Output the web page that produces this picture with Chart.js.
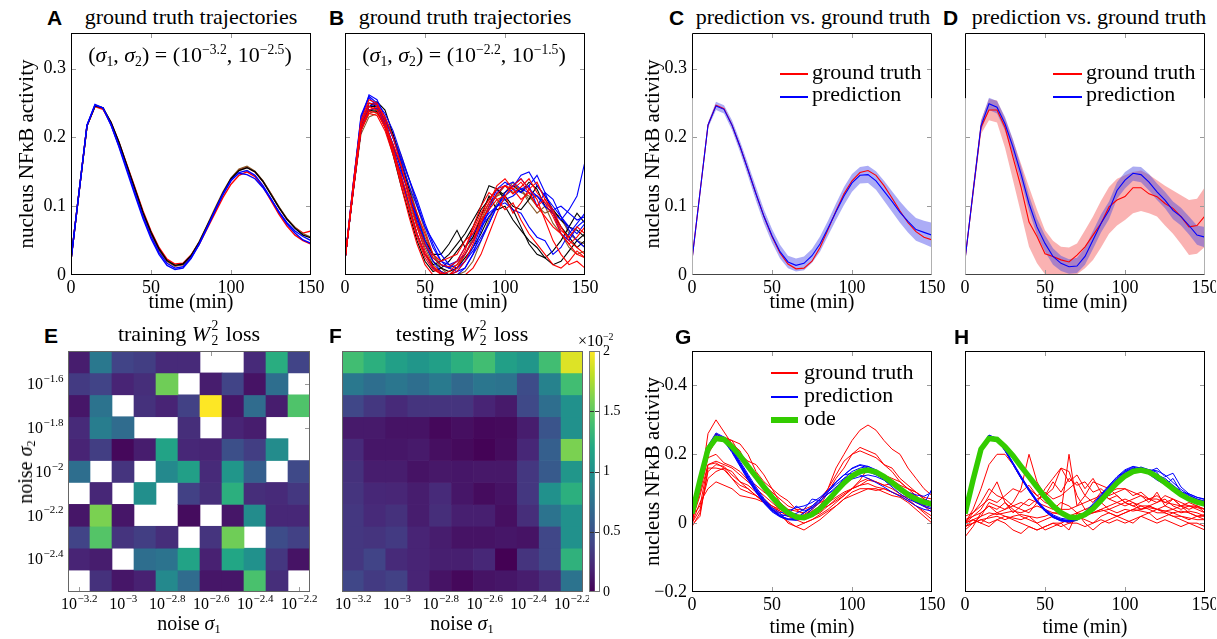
<!DOCTYPE html>
<html><head><meta charset="utf-8">
<script src="https://cdn.jsdelivr.net/npm/chart.js@4/dist/chart.umd.min.js"></script>
<style>
body{margin:0;background:#fff;width:1217px;height:639px;position:relative;overflow:hidden;font-family:'Liberation Serif',serif;}
canvas{position:absolute;}
.s{position:absolute;white-space:nowrap;font-family:'Liberation Serif',serif;font-size:22px;line-height:1;color:#000;}
.c{transform:translateX(-50%);}
.L{position:absolute;font-family:'Liberation Sans',Arial,sans-serif;font-weight:bold;font-size:21px;line-height:1;}
sup,sub{font-size:0.62em;line-height:0;position:relative;vertical-align:baseline;}
sup{top:-0.6em;} sub{top:0.28em;}
.sb{position:relative;display:inline-block;font-size:0.62em;width:0.75em;height:1.3em;}
.sb span{position:absolute;left:0.1em;line-height:1;}
.sb .u{top:-0.31em;} .sb .d{top:0.78em;}
.ln{position:absolute;}
</style></head><body>
<script>
// ---------------- DATA ----------------
const T = [0,5,10,15,20,25,30,35,40,45,50,55,60,65,70,75,80,85,90,95,100,105,110,115,120,125,130,135,140,145,150];

// Panel A: ground truth trajectories, low noise
const A_red = [
 [0.022,0.12,0.217,0.245,0.241,0.222,0.193,0.160,0.127,0.093,0.064,0.040,0.023,0.016,0.017,0.029,0.047,0.071,0.095,0.119,0.140,0.153,0.157,0.150,0.136,0.118,0.098,0.081,0.069,0.061,0.064],
 [0.022,0.12,0.217,0.246,0.242,0.219,0.188,0.155,0.121,0.088,0.059,0.036,0.020,0.013,0.015,0.026,0.044,0.067,0.090,0.113,0.132,0.145,0.150,0.143,0.128,0.108,0.088,0.071,0.058,0.050,0.045]];
const A_blue = [
 [0.022,0.12,0.218,0.248,0.243,0.218,0.186,0.151,0.116,0.082,0.053,0.030,0.014,0.008,0.010,0.024,0.044,0.068,0.093,0.117,0.137,0.149,0.152,0.145,0.130,0.111,0.091,0.074,0.061,0.051,0.046],
 [0.022,0.12,0.218,0.247,0.243,0.219,0.188,0.154,0.119,0.085,0.056,0.033,0.017,0.010,0.012,0.025,0.045,0.069,0.094,0.118,0.138,0.148,0.146,0.140,0.127,0.110,0.092,0.076,0.064,0.056,0.050]];
const A_black = [
 [0.022,0.12,0.217,0.246,0.243,0.222,0.193,0.159,0.125,0.091,0.062,0.038,0.021,0.014,0.016,0.028,0.047,0.071,0.095,0.119,0.140,0.152,0.156,0.150,0.136,0.117,0.098,0.081,0.068,0.058,0.054]];
const A_brown = [
 [0.022,0.12,0.217,0.246,0.243,0.221,0.192,0.158,0.124,0.090,0.061,0.037,0.020,0.013,0.015,0.028,0.048,0.072,0.097,0.121,0.141,0.154,0.158,0.151,0.137,0.118,0.099,0.082,0.069,0.060,0.055]];

// Panel B: ground truth trajectories, high noise
const B_red = [
 [0.022,0.13,0.225,0.255,0.25,0.225,0.185,0.14,0.095,0.055,0.025,0.008,0.002,0.0,0.005,0.02,0.045,0.075,0.1,0.118,0.13,0.125,0.135,0.12,0.1,0.085,0.07,0.06,0.045,0.03,0.025],
 [0.022,0.12,0.21,0.235,0.232,0.21,0.175,0.135,0.1,0.06,0.03,0.012,0.004,0.0,0.01,0.03,0.05,0.08,0.095,0.11,0.115,0.09,0.105,0.125,0.11,0.08,0.05,0.03,0.015,0.02,0.01],
 [0.022,0.125,0.22,0.245,0.24,0.215,0.19,0.16,0.12,0.09,0.06,0.03,0.02,0.025,0.03,0.05,0.06,0.085,0.105,0.13,0.14,0.125,0.11,0.12,0.1,0.11,0.09,0.065,0.055,0.07,0.06],
 [0.022,0.12,0.215,0.24,0.245,0.22,0.18,0.13,0.085,0.045,0.015,0.0,0.0,0.005,0.015,0.035,0.07,0.1,0.12,0.11,0.095,0.105,0.08,0.06,0.045,0.03,0.015,0.01,0.02,0.035,0.025],
 [0.022,0.125,0.22,0.25,0.248,0.23,0.2,0.16,0.115,0.07,0.035,0.012,0.0,0.0,0.0,0.0,0.01,0.03,0.06,0.09,0.115,0.13,0.14,0.125,0.135,0.11,0.095,0.07,0.05,0.04,0.03],
 [0.022,0.12,0.21,0.238,0.236,0.215,0.18,0.145,0.11,0.075,0.045,0.025,0.015,0.012,0.02,0.04,0.065,0.09,0.11,0.125,0.13,0.118,0.128,0.14,0.12,0.105,0.085,0.06,0.045,0.055,0.07]];
const B_blue = [
 [0.022,0.13,0.225,0.262,0.255,0.23,0.2,0.165,0.13,0.1,0.07,0.05,0.03,0.015,0.01,0.02,0.035,0.055,0.075,0.1,0.12,0.13,0.14,0.125,0.115,0.1,0.09,0.08,0.095,0.115,0.165],
 [0.022,0.125,0.22,0.25,0.248,0.22,0.185,0.145,0.1,0.06,0.03,0.01,0.002,0.0,0.0,0.01,0.03,0.065,0.095,0.12,0.13,0.135,0.125,0.13,0.145,0.12,0.09,0.06,0.05,0.07,0.08],
 [0.022,0.128,0.23,0.258,0.245,0.215,0.18,0.15,0.12,0.085,0.05,0.025,0.015,0.01,0.02,0.04,0.06,0.075,0.09,0.1,0.105,0.095,0.09,0.07,0.055,0.05,0.03,0.04,0.06,0.075,0.09],
 [0.022,0.12,0.215,0.245,0.25,0.235,0.21,0.175,0.14,0.11,0.075,0.045,0.02,0.01,0.005,0.01,0.03,0.05,0.075,0.1,0.115,0.125,0.12,0.13,0.1,0.12,0.11,0.085,0.065,0.05,0.04],
 [0.022,0.13,0.232,0.26,0.25,0.222,0.19,0.155,0.118,0.08,0.045,0.02,0.005,0.0,0.005,0.02,0.04,0.07,0.1,0.125,0.135,0.128,0.145,0.15,0.13,0.115,0.1,0.085,0.07,0.06,0.075],
 [0.022,0.12,0.21,0.24,0.243,0.225,0.2,0.17,0.14,0.105,0.07,0.04,0.02,0.015,0.02,0.03,0.05,0.07,0.085,0.1,0.11,0.115,0.125,0.12,0.115,0.105,0.095,0.1,0.09,0.08,0.085]];
const B_black = [
 [0.022,0.12,0.215,0.245,0.252,0.24,0.205,0.165,0.125,0.085,0.05,0.03,0.03,0.045,0.065,0.04,0.055,0.085,0.115,0.095,0.1,0.08,0.065,0.05,0.04,0.025,0.015,0.02,0.035,0.05,0.06],
 [0.022,0.125,0.22,0.25,0.245,0.22,0.19,0.155,0.115,0.075,0.045,0.02,0.01,0.005,0.01,0.025,0.04,0.06,0.085,0.1,0.12,0.13,0.12,0.135,0.125,0.1,0.09,0.07,0.055,0.04,0.05],
 [0.022,0.118,0.21,0.24,0.238,0.215,0.175,0.13,0.09,0.05,0.02,0.005,0.01,0.02,0.035,0.05,0.07,0.095,0.11,0.125,0.115,0.1,0.095,0.11,0.13,0.115,0.095,0.08,0.07,0.09,0.075],
 [0.022,0.122,0.215,0.245,0.245,0.225,0.185,0.14,0.1,0.06,0.03,0.015,0.02,0.03,0.045,0.06,0.08,0.1,0.13,0.125,0.11,0.095,0.07,0.045,0.03,0.025,0.035,0.05,0.07,0.065,0.055]];
const B_brown = [
 [0.022,0.122,0.215,0.24,0.242,0.225,0.2,0.175,0.14,0.1,0.065,0.03,0.01,0.0,0.0,0.005,0.02,0.05,0.08,0.105,0.12,0.13,0.125,0.105,0.09,0.1,0.075,0.06,0.04,0.03,0.035],
 [0.022,0.12,0.205,0.23,0.235,0.22,0.185,0.145,0.105,0.07,0.04,0.015,0.005,0.0,0.01,0.03,0.055,0.08,0.105,0.115,0.13,0.12,0.125,0.11,0.115,0.1,0.09,0.085,0.06,0.05,0.045],
 [0.022,0.12,0.212,0.235,0.24,0.228,0.205,0.17,0.13,0.09,0.055,0.03,0.015,0.01,0.015,0.03,0.05,0.075,0.1,0.115,0.12,0.135,0.12,0.115,0.1,0.09,0.095,0.08,0.065,0.05,0.04]];

// Panel C: prediction vs ground truth (low noise)
const C_truth   = [0.022,0.12,0.218,0.247,0.242,0.218,0.187,0.153,0.118,0.085,0.056,0.032,0.016,0.009,0.010,0.02,0.04,0.066,0.093,0.118,0.137,0.149,0.152,0.145,0.130,0.112,0.093,0.076,0.063,0.055,0.051];
const C_pred    = [0.022,0.12,0.218,0.246,0.241,0.218,0.187,0.153,0.118,0.085,0.057,0.034,0.019,0.014,0.017,0.028,0.045,0.068,0.092,0.115,0.134,0.145,0.146,0.137,0.122,0.107,0.091,0.078,0.066,0.062,0.058];
const C_pred_hi = [0.024,0.123,0.222,0.252,0.247,0.225,0.195,0.162,0.128,0.095,0.067,0.044,0.028,0.024,0.027,0.038,0.056,0.079,0.104,0.128,0.147,0.157,0.159,0.151,0.137,0.122,0.107,0.094,0.083,0.079,0.076];
const C_pred_lo = [0.02,0.117,0.214,0.24,0.235,0.211,0.179,0.144,0.108,0.075,0.047,0.024,0.01,0.005,0.007,0.018,0.034,0.057,0.080,0.102,0.121,0.133,0.134,0.124,0.108,0.092,0.076,0.062,0.050,0.045,0.04];

// Panel D: prediction vs ground truth (high noise)
const D_truth    = [0.022,0.12,0.215,0.24,0.24,0.215,0.171,0.128,0.077,0.056,0.031,0.027,0.022,0.019,0.029,0.041,0.058,0.075,0.099,0.109,0.114,0.127,0.127,0.118,0.114,0.104,0.097,0.085,0.07,0.072,0.086];
const D_truth_hi = [0.024,0.13,0.225,0.256,0.254,0.228,0.196,0.162,0.128,0.095,0.065,0.05,0.041,0.04,0.046,0.065,0.085,0.108,0.128,0.14,0.145,0.15,0.152,0.146,0.138,0.13,0.123,0.116,0.109,0.111,0.128];
const D_truth_lo = [0.02,0.11,0.205,0.225,0.222,0.185,0.138,0.09,0.041,0.017,0.001,0.0,0.0,0.0,0.001,0.01,0.022,0.04,0.06,0.072,0.08,0.09,0.093,0.09,0.085,0.072,0.06,0.045,0.029,0.031,0.041];
const D_pred     = [0.022,0.12,0.217,0.249,0.244,0.22,0.186,0.147,0.104,0.07,0.046,0.027,0.017,0.012,0.013,0.027,0.051,0.075,0.094,0.123,0.138,0.148,0.146,0.135,0.121,0.109,0.094,0.085,0.072,0.058,0.055];
const D_pred_hi  = [0.024,0.124,0.224,0.258,0.253,0.23,0.197,0.158,0.116,0.082,0.058,0.039,0.028,0.023,0.025,0.04,0.064,0.088,0.107,0.135,0.15,0.158,0.157,0.147,0.133,0.121,0.107,0.098,0.085,0.072,0.07];
const D_pred_lo  = [0.02,0.116,0.21,0.24,0.235,0.21,0.175,0.136,0.093,0.058,0.034,0.015,0.006,0.002,0.003,0.015,0.038,0.062,0.081,0.111,0.126,0.137,0.135,0.123,0.109,0.097,0.081,0.072,0.059,0.044,0.04];

// Heatmaps: rows top (sigma2 = 10^-1.5) to bottom (10^-2.5); columns sigma1 = 10^-3.2 .. 10^-2.2; values x1e-2, null = missing
const SIGMA1_EXP = ['\u22123.2','\u22123.1','\u22123','\u22122.9','\u22122.8','\u22122.7','\u22122.6','\u22122.5','\u22122.4','\u22122.3','\u22122.2'];
const SIGMA2_EXP = ['\u22121.5','\u22121.6','\u22121.7','\u22121.8','\u22121.9','\u22122','\u22122.1','\u22122.2','\u22122.3','\u22122.4','\u22122.5'];
const E_TRAIN_LOSS = [
 [0.16,0.8,0.4,0.36,0.24,0.24,null,null,0.24,1.24,0.4],
 [0.34,0.4,0.2,0.26,1.56,null,0.16,0.4,0.1,0.72,null],
 [0.12,0.76,null,0.28,0.2,0.38,2.0,0.12,0.7,0.16,1.44],
 [0.24,0.84,0.7,null,null,0.26,null,0.2,0.16,null,null],
 [0.2,0.36,0.04,0.16,1.16,0.22,0.2,0.48,0.36,0.96,null],
 [0.72,null,0.3,null,0.94,1.12,0.24,1.04,0.6,null,0.44],
 [null,0.22,null,0.98,null,0.38,0.26,1.26,0.26,0.24,0.32],
 [0.12,1.6,0.12,null,null,0.06,null,0.12,0.96,0.22,0.22],
 [0.4,1.46,0.3,0.36,0.26,null,0.3,1.56,null,0.46,0.38],
 [0.2,0.16,null,0.72,0.76,1.16,0.18,1.18,1.0,0.32,0.1],
 [null,0.28,0.12,0.18,0.94,0.7,0.12,0.12,1.42,0.26,null]];
const F_TEST_LOSS = [
 [1.38,1.26,1.12,1.04,1.12,1.26,1.38,1.12,1.04,1.38,1.9],
 [0.8,0.72,0.78,0.72,0.82,0.68,0.78,0.76,0.46,0.88,1.38],
 [0.42,0.32,0.24,0.3,0.3,0.3,0.2,0.14,0.44,0.72,1.0],
 [0.14,0.14,0.1,0.1,0.04,0.08,0.04,0.05,0.16,0.52,1.0],
 [0.24,0.12,0.12,0.14,0.08,0.05,0.01,0.06,0.22,0.6,1.6],
 [0.28,0.16,0.16,0.1,0.13,0.12,0.13,0.13,0.32,0.56,1.04],
 [0.3,0.22,0.21,0.16,0.24,0.12,0.06,0.1,0.32,1.0,1.26],
 [0.32,0.24,0.28,0.16,0.26,0.17,0.17,0.08,0.26,0.76,1.0],
 [0.32,0.3,0.34,0.2,0.16,0.1,0.1,0.12,0.1,0.42,1.0],
 [0.32,0.4,0.24,0.2,0.17,0.17,0.22,0.0,0.3,0.42,1.28],
 [0.42,0.34,0.38,0.2,0.1,0.04,0.1,0.12,0.16,0.26,0.76]];
const COLORBAR_TICKS = [0,0.5,1,1.5,2];

// Panels G/H
const ODE = [0.028,0.125,0.215,0.246,0.243,0.222,0.196,0.165,0.135,0.105,0.076,0.05,0.03,0.018,0.016,0.025,0.042,0.066,0.092,0.117,0.137,0.15,0.154,0.148,0.135,0.118,0.1,0.083,0.07,0.061,0.055];
const G_truth = [
 [0.0,0.1,0.26,0.3,0.265,0.23,0.21,0.16,0.13,0.11,0.09,0.07,0.05,0.04,0.04,0.05,0.07,0.1,0.16,0.2,0.24,0.27,0.285,0.27,0.24,0.215,0.2,0.16,0.13,0.1,0.08],
 [0.02,0.05,0.17,0.175,0.16,0.15,0.12,0.1,0.08,0.06,0.045,0.035,0.02,0.01,0.0,0.01,0.025,0.04,0.06,0.08,0.1,0.11,0.125,0.12,0.11,0.1,0.085,0.07,0.05,0.035,0.02],
 [-0.01,0.03,0.15,0.17,0.165,0.14,0.12,0.11,0.09,0.07,0.05,0.035,0.02,0.015,0.02,0.035,0.05,0.06,0.075,0.09,0.1,0.11,0.115,0.105,0.1,0.09,0.08,0.075,0.06,0.05,0.04],
 [0.03,0.12,0.22,0.26,0.245,0.24,0.23,0.2,0.15,0.12,0.1,0.08,0.065,0.04,0.025,0.04,0.06,0.1,0.14,0.18,0.2,0.22,0.21,0.2,0.17,0.16,0.13,0.11,0.09,0.07,0.06],
 [0.0,0.04,0.13,0.15,0.16,0.13,0.1,0.09,0.08,0.06,0.04,0.03,0.0,-0.01,0.0,0.01,0.02,0.035,0.05,0.07,0.09,0.1,0.1,0.095,0.1,0.09,0.08,0.065,0.05,0.03,0.01],
 [0.01,0.08,0.17,0.18,0.17,0.16,0.14,0.12,0.1,0.08,0.06,0.04,0.03,0.02,0.01,0.02,0.03,0.05,0.065,0.08,0.1,0.12,0.13,0.12,0.11,0.115,0.1,0.09,0.08,0.06,0.05],
 [0.0,0.06,0.1,0.12,0.11,0.1,0.08,0.075,0.07,0.06,0.05,0.04,0.03,0.025,0.02,0.03,0.04,0.05,0.07,0.085,0.1,0.125,0.16,0.15,0.14,0.13,0.12,0.1,0.09,0.07,0.06],
 [0.02,0.11,0.2,0.24,0.25,0.24,0.2,0.18,0.17,0.14,0.1,0.06,0.03,0.02,0.015,0.03,0.05,0.09,0.13,0.16,0.2,0.21,0.2,0.19,0.17,0.15,0.12,0.1,0.08,0.05,0.03],
 [-0.005,0.02,0.16,0.16,0.155,0.13,0.11,0.1,0.08,0.065,0.04,0.02,0.005,-0.01,-0.02,-0.005,0.01,0.03,0.05,0.07,0.08,0.09,0.1,0.1,0.09,0.08,0.075,0.06,0.04,0.02,0.0],
 [0.01,0.09,0.19,0.2,0.175,0.165,0.15,0.125,0.11,0.09,0.075,0.06,0.04,0.035,0.03,0.045,0.06,0.07,0.09,0.115,0.13,0.15,0.155,0.145,0.135,0.125,0.11,0.1,0.09,0.075,0.07]];
const G_pred = [
 [0.022,0.12,0.225,0.262,0.25,0.215,0.175,0.135,0.098,0.065,0.04,0.022,0.012,0.01,0.02,0.04,0.062,0.09,0.118,0.14,0.158,0.168,0.16,0.145,0.125,0.105,0.085,0.07,0.06,0.058,0.065],
 [0.022,0.12,0.215,0.25,0.238,0.205,0.165,0.125,0.09,0.058,0.035,0.02,0.025,0.05,0.035,0.045,0.07,0.095,0.12,0.14,0.145,0.14,0.13,0.118,0.105,0.09,0.078,0.065,0.05,0.04,0.035],
 [0.022,0.12,0.22,0.255,0.245,0.212,0.172,0.133,0.097,0.064,0.04,0.026,0.02,0.028,0.04,0.07,0.065,0.085,0.105,0.125,0.14,0.15,0.158,0.15,0.135,0.118,0.1,0.09,0.082,0.078,0.09],
 [0.022,0.12,0.218,0.252,0.242,0.21,0.17,0.13,0.094,0.062,0.038,0.02,0.01,0.008,0.015,0.03,0.05,0.075,0.1,0.13,0.15,0.16,0.165,0.155,0.14,0.12,0.1,0.082,0.065,0.055,0.1],
 [0.022,0.12,0.215,0.248,0.24,0.212,0.175,0.138,0.1,0.068,0.042,0.022,0.012,0.012,0.03,0.045,0.065,0.085,0.1,0.115,0.128,0.135,0.14,0.135,0.125,0.11,0.092,0.076,0.06,0.048,0.04],
 [0.022,0.12,0.22,0.258,0.248,0.218,0.18,0.142,0.105,0.072,0.045,0.03,0.035,0.045,0.05,0.06,0.075,0.095,0.12,0.14,0.16,0.17,0.165,0.152,0.135,0.115,0.098,0.082,0.07,0.068,0.06],
 [0.022,0.12,0.218,0.25,0.24,0.208,0.168,0.128,0.09,0.058,0.033,0.018,0.01,0.015,0.03,0.05,0.07,0.092,0.112,0.13,0.14,0.148,0.15,0.14,0.128,0.112,0.095,0.078,0.062,0.052,0.045]];
const H_truth = [
 [0.0,0.04,0.1,0.17,0.2,0.2,0.17,0.13,0.1,0.08,0.06,0.05,0.04,0.04,0.05,0.06,0.07,0.08,0.09,0.1,0.1,0.09,0.08,0.07,0.07,0.06,0.055,0.05,0.05,0.045,0.04],
 [-0.02,0.0,0.02,0.06,0.05,0.04,0.06,0.1,0.2,0.12,0.08,0.1,0.16,0.15,0.08,0.04,0.03,0.04,0.05,0.06,0.07,0.06,0.05,0.05,0.04,0.05,0.04,0.05,0.03,0.02,0.02],
 [0.0,0.01,0.02,0.03,0.025,0.03,0.035,0.03,0.04,0.05,0.04,0.03,0.03,0.2,0.05,0.08,0.12,0.11,0.1,0.08,0.06,0.05,0.04,0.045,0.04,0.035,0.03,0.035,0.03,0.02,0.025],
 [0.0,0.03,0.06,0.1,0.08,0.07,0.05,0.04,0.03,0.06,0.1,0.13,0.16,0.12,0.14,0.1,0.13,0.09,0.07,0.08,0.06,0.05,0.06,0.07,0.06,0.08,0.07,0.06,0.05,0.05,0.04],
 [-0.01,0.0,0.01,0.0,0.01,0.02,0.015,0.01,0.02,0.0,-0.02,-0.01,0.0,0.01,0.02,0.01,0.0,0.02,0.03,0.02,0.03,0.04,0.035,0.03,0.04,0.03,0.02,0.01,0.0,0.0,-0.01],
 [0.01,0.02,0.04,0.08,0.12,0.06,0.04,0.02,0.01,0.0,0.01,0.02,0.01,0.0,0.01,0.02,0.03,0.04,0.03,0.02,0.03,0.04,0.05,0.04,0.03,0.03,0.02,0.02,0.015,0.01,0.01],
 [-0.04,-0.01,0.03,0.05,0.03,0.04,0.05,0.06,0.05,0.07,0.08,0.12,0.09,0.13,0.11,0.12,0.09,0.1,0.08,0.09,0.1,0.08,0.09,0.07,0.08,0.06,0.07,0.05,0.06,0.05,0.04],
 [0.0,0.01,0.0,0.02,0.03,0.02,0.01,0.0,-0.01,-0.02,-0.01,0.0,0.0,-0.02,0.03,0.0,-0.02,0.0,0.01,0.02,0.01,0.0,0.02,0.03,0.01,0.02,0.03,0.02,0.01,0.02,0.01],
 [0.0,0.02,0.03,0.05,0.04,0.06,0.03,0.05,0.07,0.06,0.05,0.04,0.06,0.05,0.03,0.04,0.05,0.06,0.04,0.05,0.06,0.07,0.08,0.06,0.09,0.05,0.07,0.05,0.04,0.05,0.03],
 [-0.01,0.0,0.01,0.015,0.02,0.01,0.02,0.025,0.02,0.015,0.02,0.03,0.025,0.02,0.03,0.025,0.03,0.035,0.04,0.03,0.04,0.035,0.04,0.05,0.04,0.035,0.04,0.03,0.035,0.03,0.02],
 [0.02,0.03,0.05,0.07,0.06,0.08,0.1,0.09,0.11,0.08,0.09,0.07,0.08,0.1,0.12,0.08,0.06,0.09,0.07,0.06,0.05,0.06,0.04,0.05,0.06,0.07,0.05,0.04,0.05,0.04,0.03],
 [-0.01,0.01,0.0,-0.01,0.01,0.0,-0.02,-0.03,-0.01,-0.02,-0.01,0.0,-0.01,0.0,0.0,-0.01,0.0,0.01,0.0,0.01,0.0,0.01,0.02,0.01,0.0,0.01,0.0,-0.01,0.0,-0.01,-0.02]];
const H_pred = [
 [0.022,0.12,0.22,0.255,0.245,0.212,0.172,0.132,0.095,0.062,0.036,0.018,0.008,0.006,0.012,0.028,0.05,0.078,0.105,0.13,0.15,0.16,0.158,0.148,0.132,0.118,0.1,0.085,0.072,0.064,0.058],
 [0.022,0.12,0.218,0.25,0.242,0.21,0.17,0.13,0.093,0.06,0.034,0.016,0.007,0.005,0.01,0.025,0.047,0.074,0.1,0.125,0.145,0.158,0.162,0.15,0.16,0.135,0.145,0.105,0.085,0.075,0.068],
 [0.022,0.12,0.22,0.254,0.244,0.213,0.174,0.135,0.098,0.065,0.039,0.021,0.011,0.008,0.014,0.03,0.053,0.08,0.108,0.133,0.152,0.163,0.155,0.142,0.125,0.112,0.095,0.078,0.07,0.065,0.055],
 [0.022,0.12,0.218,0.252,0.243,0.21,0.171,0.131,0.094,0.061,0.035,0.017,0.006,0.003,0.008,0.022,0.043,0.068,0.095,0.12,0.14,0.155,0.163,0.155,0.148,0.11,0.13,0.09,0.085,0.075,0.07],
 [0.022,0.12,0.22,0.256,0.246,0.215,0.176,0.137,0.1,0.067,0.041,0.024,0.014,0.011,0.017,0.033,0.056,0.084,0.11,0.135,0.155,0.165,0.16,0.152,0.14,0.13,0.11,0.092,0.08,0.07,0.064],
 [0.022,0.12,0.218,0.25,0.242,0.212,0.173,0.134,0.097,0.063,0.037,0.019,0.009,0.006,0.012,0.027,0.049,0.075,0.102,0.128,0.148,0.158,0.16,0.155,0.152,0.14,0.118,0.098,0.082,0.07,0.062]];

// ---------------- STYLE / HELPERS ----------------
const RED='#ff0000', BLUE='#0000ff', BLACK='#000000', BROWN='#8a5a2b', GREEN='#33cc00';
const SERIF='"Liberation Serif", serif';
const tickFont={family:SERIF,size:18}, axFont={family:SERIF,size:20}, yFont={family:SERIF,size:21};
const VIR=['#440154','#482475','#414487','#355f8d','#2a788e','#21918c','#22a884','#44bf70','#7ad151','#bddf26','#fde725'];
function hex(h){return [1,3,5].map(i=>parseInt(h.substr(i,2),16));}
function viridis(f){f=Math.max(0,Math.min(1,f));const p=f*(VIR.length-1),i=Math.min(Math.floor(p),VIR.length-2),u=p-i;const a=hex(VIR[i]),b=hex(VIR[i+1]);return 'rgb('+a.map((v,k)=>Math.round(v+(b[k]-v)*u)).join(',')+')';}
const fmt=v=>{const r=Math.round(v*10)/10;return r===0?'0':(r<0?'\u2212':'')+Math.abs(r).toFixed(1);};
const pts=a=>a.map((y,i)=>({x:T[i],y}));
const L=(a,c,w,o)=>({data:pts(a),borderColor:c,borderWidth:w,pointRadius:0,fill:false,tension:0,order:o||0});
const band=(hi,lo,c,o)=>[{data:pts(hi),borderWidth:0,pointRadius:0,backgroundColor:c,fill:'+1',order:o},{data:pts(lo),borderWidth:0,pointRadius:0,fill:false,order:o}];

function tickMarks(ch,o){const {ctx,chartArea:c,scales}=ch;ctx.save();ctx.strokeStyle=o.tickColor||'#9a9a9a';ctx.lineWidth=1;ctx.beginPath();
 (o.xt||[]).forEach(v=>{const p=Math.round(scales.x.getPixelForValue(v))+0.5;ctx.moveTo(p,c.bottom);ctx.lineTo(p,c.bottom-5);ctx.moveTo(p,c.top);ctx.lineTo(p,c.top+5);});
 (o.yt||[]).forEach(v=>{const p=Math.round(scales.y.getPixelForValue(v))+0.5;ctx.moveTo(c.left,p);ctx.lineTo(c.left+5,p);ctx.moveTo(c.right,p);ctx.lineTo(c.right-5,p);});
 ctx.stroke();ctx.restore();}
function frameBox(ch,o){const {ctx,chartArea:c,scales}=ch;ctx.save();ctx.lineWidth=1;const l=c.left+0.5,r=c.right-0.5,t=c.top+0.5,b=c.bottom-0.5;
 if(o.greyFrom!=null){const g=Math.round(scales.y.getPixelForValue(o.greyFrom))+0.5;
  ctx.strokeStyle='#000';ctx.beginPath();ctx.moveTo(l,g);ctx.lineTo(l,t);ctx.lineTo(r,t);ctx.lineTo(r,g);ctx.stroke();
  ctx.strokeStyle='#b0b0b0';ctx.beginPath();ctx.moveTo(l,g);ctx.lineTo(l,b);ctx.moveTo(r,g);ctx.lineTo(r,b);ctx.stroke();
  ctx.strokeStyle='#444';ctx.beginPath();ctx.moveTo(l,b);ctx.lineTo(r,b);ctx.stroke();
 } else {ctx.strokeStyle=o.color||'#000';ctx.strokeRect(l,t,r-l,b-t);}
 ctx.restore();}
const framePlugin={id:'frame',
 beforeDatasetsDraw(ch,a,o){if(o.on&&o.below)tickMarks(ch,o);},
 afterDatasetsDraw(ch,a,o){if(!o.on)return;if(!o.below)tickMarks(ch,o);frameBox(ch,o);}};
const sciPlugin={id:'sci',afterDraw(ch,a,o){if(!o.on)return;const {ctx,chartArea:c,scales}=ch;ctx.save();ctx.fillStyle='#000';ctx.textAlign='left';ctx.textBaseline='alphabetic';
 const big=o.size+'px '+SERIF, sm=Math.round(o.size*0.68)+'px '+SERIF;
 const meas=e=>{ctx.font=big;const w1=ctx.measureText('10').width;ctx.font=sm;return [w1,ctx.measureText(e).width];};
 const draw=(x,y,e,w1)=>{ctx.font=big;ctx.fillText('10',x,y);ctx.font=sm;ctx.fillText(e,x+w1+0.5,y-o.size*0.45);};
 (o.x||[]).forEach(([i,e])=>{const [w1,w2]=meas(e);const px=scales.x.getPixelForValue(i);draw(px-(w1+w2)/2,c.bottom+o.size+1,e,w1);});
 (o.y||[]).forEach(([v,e])=>{const [w1,w2]=meas(e);const py=scales.y.getPixelForValue(v);draw(c.left-5-(w1+w2),py+o.size*0.33,e,w1);});
 ctx.restore();}};
Chart.register(framePlugin,sciPlugin);

function panel(box,m,cfg){
 const c=document.createElement('canvas');const w=box.r-box.l+m.l+m.r,h=box.b-box.t+m.t+m.b;
 c.width=w;c.height=h;c.style.left=(box.l-m.l)+'px';c.style.top=(box.t-m.t)+'px';c.style.width=w+'px';c.style.height=h+'px';
 document.body.appendChild(c);
 const o=cfg.options;o.responsive=false;o.animation=false;o.devicePixelRatio=1;
 o.layout={padding:{left:0,right:m.r,top:m.t,bottom:0}};
 o.plugins=Object.assign({legend:{display:false},tooltip:{enabled:false}},o.plugins||{});
 o.scales.x.afterFit=s=>{s.height=m.b;s.paddingLeft=0;s.paddingRight=0;};
 o.scales.y.afterFit=s=>{s.width=m.l;s.paddingTop=0;s.paddingBottom=0;};
 return new Chart(c,cfg);
}
function lineScales(ymin,ymax,ystep,showY,yTitle,tpad){
 return {
  x:{type:'linear',min:0,max:150,ticks:{stepSize:50,includeBounds:false,font:tickFont,color:'#000',padding:2,maxRotation:0,callback:v=>String(v)},
     grid:{display:false,drawTicks:false},border:{display:false},
     title:{display:true,text:'time (min)',font:axFont,color:'#000',padding:{top:0,bottom:0}}},
  y:{type:'linear',min:ymin,max:ymax,ticks:{display:showY,stepSize:ystep,includeBounds:false,font:tickFont,color:'#000',padding:5,callback:fmt},
     grid:{display:false,drawTicks:false},border:{display:false},
     title:{display:!!yTitle,text:yTitle||'',font:yFont,color:'#000',padding:{top:tpad||0,bottom:0}}}
 };
}
const YT='nucleus NF\u03baB activity';
const topY=[0.1,0.2,0.3], botY=[0,0.2,0.4];

// ---------------- PANELS ----------------
const boxA={l:71,t:33,r:311,b:275}, boxB={l:345,t:33,r:585,b:275}, boxC={l:692,t:33,r:932,b:275}, boxD={l:965,t:33,r:1205,b:275};
const boxE={l:68,t:351,r:310,b:592}, boxF={l:342,t:351,r:583,b:592}, boxG={l:692,t:351,r:932,b:592}, boxH={l:965,t:351,r:1205,b:592};

panel(boxA,{l:71,t:2,r:14,b:40},{type:'line',data:{datasets:[
 ...A_red.map(a=>L(a,RED,1.4,3)),...A_brown.map(a=>L(a,BROWN,1.4,2)),...A_black.map(a=>L(a,BLACK,1.4,1)),...A_blue.map(a=>L(a,BLUE,1.4,0))]},
 options:{scales:lineScales(0,0.352,0.1,true,YT,15),plugins:{frame:{on:true,xt:[50,100],yt:topY}}}});

panel(boxB,{l:12,t:2,r:14,b:40},{type:'line',data:{datasets:[
 ...B_red.map(a=>L(a,RED,1.1,0)),...B_blue.map(a=>L(a,BLUE,1.1,1)),...B_black.map(a=>L(a,BLACK,1.1,2)),...B_brown.map(a=>L(a,BROWN,1.1,3))]},
 options:{scales:lineScales(0,0.352,0.1,false),plugins:{frame:{on:true,xt:[50,100],yt:topY}}}});

panel(boxC,{l:62,t:2,r:14,b:40},{type:'line',data:{datasets:[
 ...band(C_pred_hi,C_pred_lo,'rgba(70,70,235,0.45)',5),L(C_truth,RED,1.1,1),L(C_pred,BLUE,1.1,0)]},
 options:{scales:lineScales(0,0.352,0.1,true,YT,11),plugins:{frame:{on:true,xt:[50,100],yt:topY,greyFrom:0.257}}}});

panel(boxD,{l:12,t:2,r:11,b:40},{type:'line',data:{datasets:[
 ...band(D_truth_hi,D_truth_lo,'rgba(245,85,85,0.45)',6),...band(D_pred_hi,D_pred_lo,'rgba(70,70,225,0.45)',5),L(D_truth,RED,1.1,1),L(D_pred,BLUE,1.1,0)]},
 options:{scales:lineScales(0,0.352,0.1,false),plugins:{frame:{on:true,xt:[50,100],yt:topY,greyFrom:0.257}}}});

function heatCfg(vals,showY){
 const n=vals.length;
 return {type:'bar',data:{labels:SIGMA1_EXP,datasets:vals.map((row,r)=>({data:row.map(()=>[n-1-r,n-r]),
   backgroundColor:row.map(v=>v==null?'rgba(255,255,255,0)':viridis(v/2)),borderWidth:0,barPercentage:1,categoryPercentage:1}))},
  options:{scales:{
   x:{type:'category',stacked:true,offset:true,ticks:{display:false},grid:{display:false,drawTicks:false},border:{display:false}},
   y:{type:'linear',min:0,max:n,ticks:{display:false},grid:{display:false,drawTicks:false},border:{display:false}}},
   plugins:{frame:{on:true,below:true,color:'#666',xt:[0,2,4,6,8,10],yt:[9.5,7.5,5.5,3.5,1.5]},
    sci:{on:true,size:16,x:[0,2,4,6,8,10].map(i=>[i,SIGMA1_EXP[i]]),y:showY?[1,3,5,7,9].map(r=>[n-0.5-r,SIGMA2_EXP[r]]):[]}}}};
}
panel(boxE,{l:46,t:2,r:14,b:22},heatCfg(E_TRAIN_LOSS,true));
panel(boxF,{l:10,t:2,r:6,b:22},heatCfg(F_TEST_LOSS,false));

// colorbar
(function(){
 const c=document.createElement('canvas');const box={l:589,t:351,r:600,b:592};const m={t:11,b:10,r:30};
 const w=box.r-box.l+m.r,h=box.b-box.t+m.t+m.b;c.width=w;c.height=h;c.style.left=box.l+'px';c.style.top=(box.t-m.t)+'px';c.style.width=w+'px';c.style.height=h+'px';
 document.body.appendChild(c);
 new Chart(c,{type:'bar',data:{labels:[''],datasets:[{data:[[COLORBAR_TICKS[0],COLORBAR_TICKS[COLORBAR_TICKS.length-1]]],barPercentage:1,categoryPercentage:1,borderWidth:0,
   backgroundColor:ctx=>{const ch=ctx.chart,a=ch.chartArea;if(!a)return '#000';const g=ch.ctx.createLinearGradient(0,a.bottom,0,a.top);VIR.forEach((col,i)=>g.addColorStop(i/(VIR.length-1),col));return g;}}]},
  options:{responsive:false,animation:false,devicePixelRatio:1,layout:{padding:{left:0,right:0,top:m.t,bottom:m.b}},
   plugins:{legend:{display:false},tooltip:{enabled:false},frame:{on:true,color:'#777',tickColor:'#333',yt:[0.5,1,1.5]}},
   scales:{x:{display:false,offset:false},
    y:{position:'right',min:0,max:2,afterFit:s=>{s.width=m.r;s.paddingTop=0;s.paddingBottom=0;},
     ticks:{stepSize:0.5,includeBounds:false,font:{family:SERIF,size:14},color:'#000',padding:3,callback:v=>String(v)},grid:{display:false,drawTicks:false},border:{display:false}}}}});
})();

panel(boxG,{l:62,t:2,r:14,b:48},{type:'line',data:{datasets:[
 ...G_truth.map(a=>L(a,RED,1,2)),...G_pred.map(a=>L(a,BLUE,1,1)),L(ODE,GREEN,5.5,0)]},
 options:{scales:lineScales(-0.2,0.5,0.2,true,YT,11),plugins:{frame:{on:true,xt:[50,100],yt:botY}}}});
panel(boxH,{l:12,t:2,r:11,b:48},{type:'line',data:{datasets:[
 ...H_truth.map(a=>L(a,RED,1,2)),...H_pred.map(a=>L(a,BLUE,1,1)),L(ODE,GREEN,5.5,0)]},
 options:{scales:lineScales(-0.2,0.5,0.2,false),plugins:{frame:{on:true,xt:[50,100],yt:botY}}}});
</script>

<!-- panel letters -->
<div class="L" style="left:47px;top:7px">A</div>
<div class="L" style="left:329px;top:7px">B</div>
<div class="L" style="left:669px;top:7px">C</div>
<div class="L" style="left:943px;top:7px">D</div>
<div class="L" style="left:44px;top:325px">E</div>
<div class="L" style="left:329px;top:325px">F</div>
<div class="L" style="left:675px;top:326px">G</div>
<div class="L" style="left:954px;top:326px">H</div>

<!-- titles -->
<div class="s c" style="left:191px;top:6px">ground truth trajectories</div>
<div class="s c" style="left:465px;top:6px">ground truth trajectories</div>
<div class="s c" style="left:813px;top:6px">prediction vs. ground truth</div>
<div class="s c" style="left:1089px;top:6px">prediction vs. ground truth</div>
<div class="s c" style="left:189px;top:323px">training <i>W</i><span class="sb"><span class="u">2</span><span class="d">2</span></span> loss</div>
<div class="s c" style="left:462px;top:323px">testing <i>W</i><span class="sb"><span class="u">2</span><span class="d">2</span></span> loss</div>

<!-- annotations -->
<div class="s c" style="left:190px;top:44px">(<i>σ</i><sub>1</sub>, <i>σ</i><sub>2</sub>) = (10<sup>−3.2</sup>, 10<sup>−2.5</sup>)</div>
<div class="s c" style="left:464px;top:44px">(<i>σ</i><sub>1</sub>, <i>σ</i><sub>2</sub>) = (10<sup>−2.2</sup>, 10<sup>−1.5</sup>)</div>

<!-- legends C -->
<div class="ln" style="left:780px;top:73px;width:28px;height:1.5px;background:#ff0000"></div>
<div class="s" style="left:812px;top:61px">ground truth</div>
<div class="ln" style="left:780px;top:96px;width:28px;height:1.5px;background:#0000ff"></div>
<div class="s" style="left:812px;top:83px">prediction</div>
<!-- legends D -->
<div class="ln" style="left:1053px;top:73px;width:29px;height:1.5px;background:#ff0000"></div>
<div class="s" style="left:1086px;top:61px">ground truth</div>
<div class="ln" style="left:1053px;top:96px;width:29px;height:1.5px;background:#0000ff"></div>
<div class="s" style="left:1086px;top:83px">prediction</div>
<!-- legend G -->
<div class="ln" style="left:771px;top:372px;width:27px;height:1.5px;background:#ff0000"></div>
<div class="s" style="left:804px;top:361px">ground truth</div>
<div class="ln" style="left:771px;top:396px;width:27px;height:1.5px;background:#0000ff"></div>
<div class="s" style="left:804px;top:384px">prediction</div>
<div class="ln" style="left:771px;top:417px;width:27px;height:6px;background:#33cc00"></div>
<div class="s" style="left:804px;top:407px">ode</div>

<!-- heatmap axis titles -->
<div class="s c" style="left:189px;top:613px;font-size:20px">noise <i>σ</i><sub>1</sub></div>
<div class="s c" style="left:462px;top:613px;font-size:20px">noise <i>σ</i><sub>1</sub></div>
<div class="s" style="left:25px;top:472px;font-size:20px;transform:translate(-50%,-50%) rotate(-90deg)">noise <i>σ</i><sub>2</sub></div>
<div class="s" style="left:578px;top:333px;font-size:16px">×10<sup>−2</sup></div>
</body></html>
